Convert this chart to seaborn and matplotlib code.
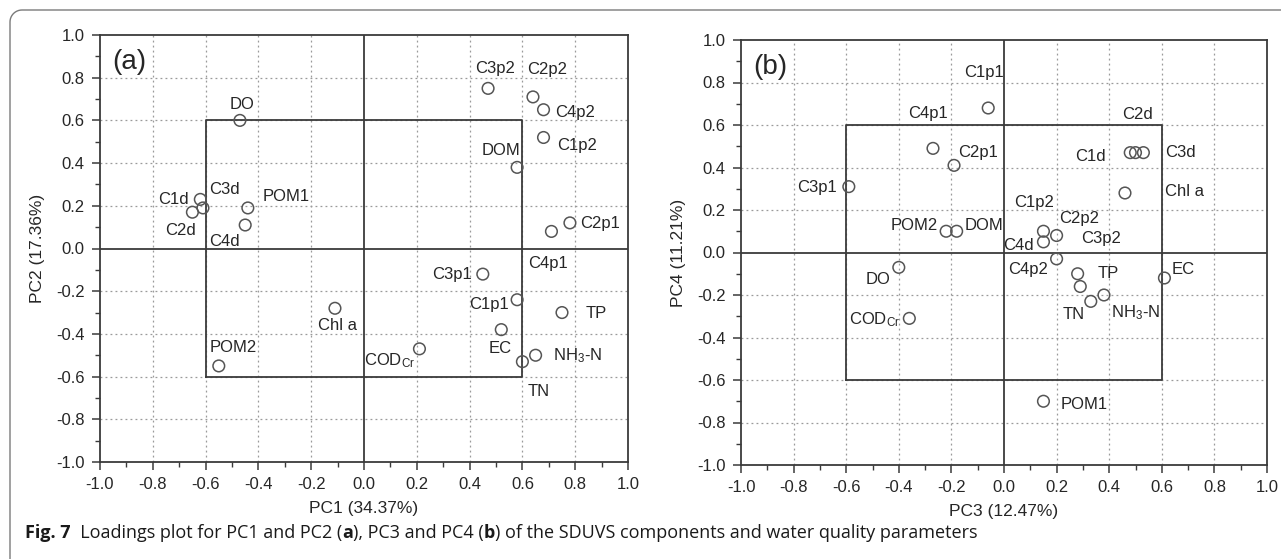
import numpy as np
import pandas as pd
import matplotlib
matplotlib.use("Agg")
import matplotlib.pyplot as plt
import seaborn as sns
from matplotlib.lines import Line2D

# ---------------- data ----------------
names = ["DO", "C1d", "C3d", "C2d", "POM1", "C4d", "C3p2", "C2p2", "C4p2", "C1p2",
         "DOM", "C2p1", "C4p1", "C3p1", "C1p1", "TP", "EC", "CODCr", "NH3-N", "TN",
         "Chl a", "POM2"]
pc1 = [-0.47, -0.62, -0.61, -0.65, -0.44, -0.45, 0.47, 0.64, 0.68, 0.68,
       0.58, 0.78, 0.71, 0.45, 0.58, 0.75, 0.52, 0.21, 0.65, 0.60,
       -0.11, -0.55]
pc2 = [0.60, 0.23, 0.19, 0.17, 0.19, 0.11, 0.75, 0.71, 0.65, 0.52,
       0.38, 0.12, 0.08, -0.12, -0.24, -0.30, -0.38, -0.47, -0.50, -0.53,
       -0.28, -0.55]
pc3 = [-0.40, 0.48, 0.53, 0.50, 0.15, 0.15, 0.29, 0.20, 0.20, 0.15,
       -0.18, -0.19, -0.27, -0.59, -0.06, 0.28, 0.61, -0.36, 0.38, 0.33,
       0.46, -0.22]
pc4 = [-0.07, 0.47, 0.47, 0.47, -0.70, 0.05, -0.16, 0.08, -0.03, 0.10,
       0.10, 0.41, 0.49, 0.31, 0.68, -0.10, -0.12, -0.31, -0.20, -0.23,
       0.28, 0.10]
tick_values = [-1.0, -0.8, -0.6, -0.4, -0.2, 0.0, 0.2, 0.4, 0.6, 0.8, 1.0]
tick_labels = ["-1.0", "-0.8", "-0.6", "-0.4", "-0.2", "0.0", "0.2", "0.4", "0.6", "0.8", "1.0"]

display = {"CODCr": r"COD$_\mathregular{Cr}$", "NH3-N": r"NH$_\mathregular{3}$-N"}

# label offsets in pixels (dx right, dy down) relative to each marker
off_a = {"DO": (2, -16), "C1d": (-27, 0), "C3d": (21, -18), "C2d": (-12, 18),
         "POM1": (38, -11), "C4d": (-21, 16), "C3p2": (7, -20), "C2p2": (14, -27),
         "C4p2": (32, 3), "C1p2": (34, 8), "DOM": (-16, -17), "C2p1": (30, 1),
         "C4p1": (-3, 32), "C3p1": (-31, 0), "C1p1": (-28, 5), "TP": (34, 1),
         "EC": (-1, 19), "CODCr": (-4, 12), "NH3-N": (42, 0), "TN": (16, 30),
         "Chl a": (3, 17), "POM2": (14, -18)}
off_b = {"DO": (-21, 12), "C1d": (-40, 4), "C3d": (37, 0), "C2d": (2, -38),
         "POM1": (41, 3), "C4d": (-25, 4), "C3p2": (21, -48), "C2p2": (23, -17),
         "C4p2": (-29, 11), "C1p2": (-9, -29), "DOM": (27, -6), "C2p1": (24, -13),
         "C4p1": (-5, -35), "C3p1": (-32, 1), "C1p1": (-4, -36), "TP": (31, 0),
         "EC": (19, -8), "CODCr": (-9, 1), "NH3-N": (32, 18), "TN": (-17, 13),
         "Chl a": (60, -1), "POM2": (-32, -6)}

df = pd.DataFrame({"name": names, "PC1": pc1, "PC2": pc2, "PC3": pc3, "PC4": pc4})

# ---------------- style ----------------
sns.set_style("white")
plt.rcParams["font.family"] = ["Liberation Sans", "DejaVu Sans"]
plt.rcParams["mathtext.fontset"] = "custom"
plt.rcParams["mathtext.rm"] = "Liberation Sans"
plt.rcParams["mathtext.it"] = "Liberation Sans:italic"
plt.rcParams["mathtext.bf"] = "Liberation Sans:bold"

TXT = "#262626"
LINE = "#3a3a3a"
PT = 0.72  # points per pixel at dpi 100

fig = plt.figure(figsize=(12.81, 5.59), dpi=100)
W, H = 1281, 559
ax_a = fig.add_axes([100 / W, 1 - 462 / H, 528 / W, 427 / H])
ax_b = fig.add_axes([741 / W, 1 - 465 / H, 526 / W, 425 / H])


def panel(ax, xcol, ycol, offs, xlabel, ylabel, tag):
    ax.set_xlim(-1, 1)
    ax.set_ylim(-1, 1)
    ax.set_xticks(tick_values)
    ax.set_yticks(tick_values)
    ax.set_xticks(np.arange(-0.9, 1.0, 0.2), minor=True)
    ax.set_yticks(np.arange(-0.9, 1.0, 0.2), minor=True)
    ax.set_xticklabels(tick_labels)
    ax.set_yticklabels(tick_labels)
    ax.tick_params(axis="both", which="major", direction="out", length=6, width=1.1,
                   color=LINE, labelsize=12, labelcolor=TXT, pad=5,
                   bottom=True, left=True, top=False, right=False)
    ax.tick_params(axis="both", which="minor", direction="out", length=3.5, width=1.0,
                   color=LINE, bottom=True, left=True, top=False, right=False)
    for g in tick_values[1:-1]:
        if abs(g) < 1e-9:
            continue
        ax.axvline(g, color="#9a9a9a", lw=0.9, ls=(0, (1.5, 2.5)), zorder=0)
        ax.axhline(g, color="#9a9a9a", lw=0.9, ls=(0, (1.5, 2.5)), zorder=0)
    for s in ax.spines.values():
        s.set_color(LINE)
        s.set_linewidth(1.3)
    # zero lines
    ax.axhline(0, color=LINE, lw=1.3, zorder=1)
    ax.axvline(0, color=LINE, lw=1.3, zorder=1)
    # 0.6 box
    bx = [-0.6, 0.6, 0.6, -0.6, -0.6]
    by = [-0.6, -0.6, 0.6, 0.6, -0.6]
    ax.plot(bx, by, color=LINE, lw=1.3, zorder=1)

    sns.scatterplot(data=df, x=xcol, y=ycol, ax=ax, s=70, marker="o",
                    linewidth=1.1, zorder=3, legend=False)
    coll = ax.collections[-1]
    coll.set_facecolor("none")
    coll.set_edgecolor("#555555")

    for _, r in df.iterrows():
        dx, dy = offs[r["name"]]
        ha = "right" if r["name"] == "CODCr" else "center"
        ax.annotate(display.get(r["name"], r["name"]), (r[xcol], r[ycol]),
                    xytext=(dx * PT, -dy * PT), textcoords="offset points",
                    ha=ha, va="center", fontsize=12, color=TXT, zorder=4)

    ax.set_xlabel(xlabel, fontsize=12.5, color=TXT, labelpad=6)
    ax.set_ylabel(ylabel, fontsize=12.5, color=TXT, labelpad=8)
    ax.text(-0.89, 0.875, tag, fontsize=20, color=TXT, ha="center", va="center")


panel(ax_a, "PC1", "PC2", off_a, "PC1 (34.37%)", "PC2 (17.36%)", "(a)")
panel(ax_b, "PC3", "PC4", off_b, "PC3 (12.47%)", "PC4 (11.21%)", "(b)")

# ---------------- frame with rounded corner ----------------
r = 12
theta = np.linspace(np.pi, np.pi / 2, 12)
cx, cy = 10 + r, 10 + r
arc_x = cx + r * np.cos(theta)
arc_y = cy - r * np.sin(theta)
fx = np.concatenate([[10], arc_x, [W]])
fy = np.concatenate([[H], arc_y, [10]])
fig.add_artist(Line2D(fx / W, 1 - fy / H, transform=fig.transFigure,
                      color="#7a7a7a", lw=1.0))

# ---------------- caption ----------------
pieces = [("Fig. 7", "bold"), ("  Loadings plot for PC1 and PC2 (", "normal"), ("a", "bold"),
          ("), PC3 and PC4 (", "normal"), ("b", "bold"),
          (") of the SDUVS components and water quality parameters", "normal")]
renderer = fig.canvas.get_renderer()
xpos = 25
for txt, wt in pieces:
    t = fig.text(xpos / W, 1 - 538 / H, txt, fontsize=13, fontweight=wt,
                 family=["Open Sans", "DejaVu Sans"], color="#1a1a1a",
                 ha="left", va="baseline")
    bb = t.get_window_extent(renderer=renderer)
    xpos += bb.width

fig.savefig("out.png", dpi=100)
